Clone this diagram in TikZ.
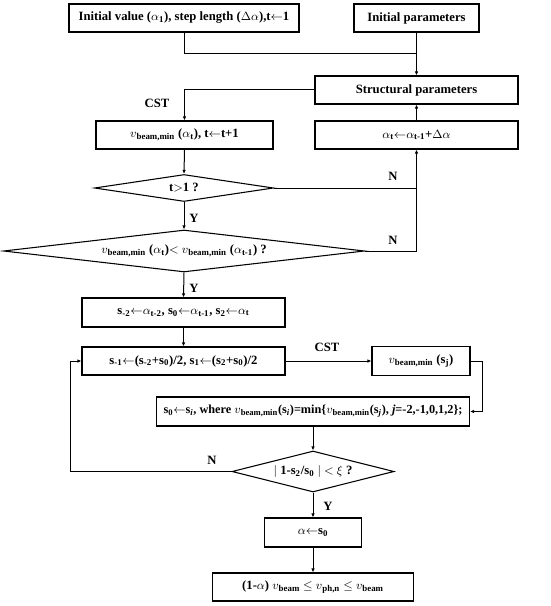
\documentclass[tikz,border=0pt]{standalone}
\usepackage{fontspec}
\setmainfont{Liberation Serif}
\usetikzlibrary{shapes.geometric,arrows.meta}
\newcommand{\vbm}{$v$\textsubscript{beam,min}}
\begin{document}
\begin{tikzpicture}[x=0.75pt,y=-0.75pt]
		\tikzstyle{every node}=[font=\fontsize{9.5pt}{11pt}\selectfont\bfseries]
		\tikzstyle{blk}=[draw, line width=0.8pt, minimum height=21pt, inner sep=1pt]
		\tikzstyle{dec}=[draw, diamond, line width=0.8pt, inner sep=1pt]
		\tikzstyle{lnk}=[line width=0.75pt]
		\tikzstyle{arr}=[line width=0.75pt, -{Latex[length=3pt,width=2.6pt]}]
		
		\useasboundingbox (0,0) rectangle (550,606);
		
		\node[blk, minimum width=172.5pt] (init) at (184,18) {Initial value ($\alpha$\textsubscript{1}), step length ($\Delta\alpha$),t$\leftarrow$1};
		\node[blk, minimum width=93.75pt] (ipar) at (416.5,18) {Initial parameters};
		\node[blk, minimum width=152.25pt] (spar) at (416.5,90) {Structural parameters};
		\node[blk, minimum width=132.75pt] (vmin) at (184.5,135) {\vbm{} ($\alpha$\textsubscript{t}), t$\leftarrow$t+1};
		\node[blk, minimum width=152.25pt] (step) at (416.5,135) {$\alpha$\textsubscript{t}$\leftarrow$$\alpha$\textsubscript{t-1}+$\Delta\alpha$};
		\node[dec, minimum width=134.25pt, minimum height=20.25pt, aspect=6.6] (tchk) at (184,188) {t$>$1 ?};
		\node[dec, minimum width=270.75pt, minimum height=31.5pt, aspect=8.6] (vchk) at (184,251) {\vbm{} ($\alpha$\textsubscript{t})$<$ \vbm{} ($\alpha$\textsubscript{t-1}) ?};
		\node[blk, minimum width=152.25pt, minimum height=21.75pt] (sini) at (183.5,312.5) {s\textsubscript{-2}$\leftarrow$$\alpha$\textsubscript{t-2}, s\textsubscript{0}$\leftarrow$$\alpha$\textsubscript{t-1}, s\textsubscript{2}$\leftarrow$$\alpha$\textsubscript{t}};
		\node[blk, minimum width=152.25pt] (smid) at (183.5,361) {s\textsubscript{-1}$\leftarrow$(s\textsubscript{-2}+s\textsubscript{0})/2, s\textsubscript{1}$\leftarrow$(s\textsubscript{2}+s\textsubscript{0})/2};
		\node[blk, minimum width=73.5pt, minimum height=21.75pt] (vsj) at (421,361) {\vbm{} (s\textsubscript{j})};
		\node[blk, minimum width=234.75pt, minimum height=21.75pt, font=\fontsize{9.2pt}{11pt}\selectfont\bfseries] (smin) at (313,411.5) {s\textsubscript{0}$\leftarrow$s\textsubscript{\textit{i}}, where \vbm(s\textsubscript{\textit{i}})=min\{\vbm(s\textsubscript{\textit{j}}), \textit{j}=-2,-1,0,1,2\};};
		\node[dec, minimum width=121.5pt, minimum height=30.75pt, aspect=4] (conv) at (313,471.5) {$|$ 1-s\textsubscript{2}/s\textsubscript{0} $|$ $<$ $\xi$ ?};
		\node[blk, minimum width=72.75pt, minimum height=21.75pt] (aset) at (313,532.5) {$\alpha$$\leftarrow$s\textsubscript{0}};
		\node[blk, minimum width=150.75pt] (rng) at (313,587) {(1-$\alpha$) $v$\textsubscript{beam} $\leq$ $v$\textsubscript{ph,n} $\leq$ $v$\textsubscript{beam}};
		
		\node (cst1) at (157,103) {CST};
		\node (cst2) at (327,347) {CST};
		\node (n1) at (393,176) {N};
		\node (n2) at (393,240) {N};
		\node (n3) at (212,460) {N};
		\node (y1) at (194,218) {Y};
		\node (y2) at (194,288) {Y};
		\node (y3) at (328,506) {Y};
		
		\coordinate (jtop) at (416.5,54);
		\coordinate (jmid) at (416.5,188);
		\coordinate (jr) at (482,361);
		\coordinate (jl) at (70,471.5);
		
		\draw[lnk] (init.south) |- (jtop);
		\draw[arr] (ipar.south) -- (spar.north);
		\draw[arr] (spar.west) -| (vmin.north);
		\draw[arr] (step.north) -- (spar.south);
		\draw[arr] (vmin.south) -- (tchk.north);
		\draw[arr] (tchk.east) -- (jmid) -- (step.south);
		\draw[lnk] (vchk.east) -| (jmid);
		\draw[arr] (tchk.south) -- (vchk.north);
		\draw[arr] (vchk.south) -- (sini.north);
		\draw[arr] (sini.south) -- (smid.north);
		\draw[arr] (smid.east) -- (vsj.west);
		\draw[arr] (vsj.east) -- (jr) |- (smin.east);
		\draw[arr] (smin.south) -- (conv.north);
		\draw[arr] (conv.west) -- (jl) |- (smid.west);
		\draw[arr] (conv.south) -- (aset.north);
		\draw[arr] (aset.south) -- (rng.north);
		
	\end{tikzpicture}
\end{document}
